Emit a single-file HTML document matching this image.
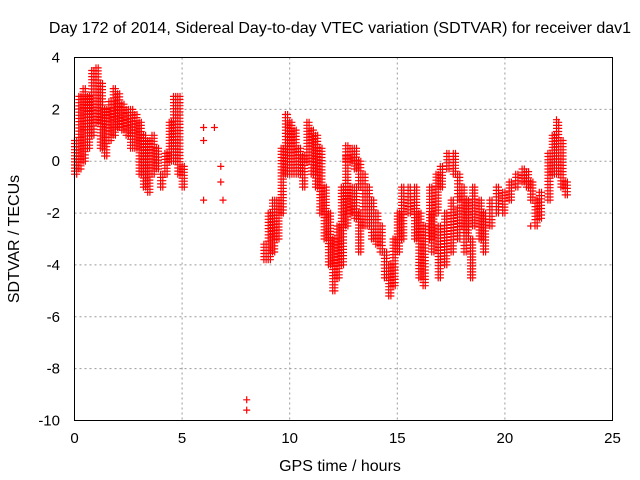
<!DOCTYPE html>
<html><head><meta charset="utf-8"><style>
body{margin:0;background:#fff;}
svg{display:block;font-family:"Liberation Sans",sans-serif;}
</style></head><body>
<svg id="chart" width="640" height="480" viewBox="0 0 640 480">
<rect width="640" height="480" fill="#fff"/>
<text x="340" y="33" text-anchor="middle" font-size="16" fill="#000">Day 172 of 2014, Sidereal Day-to-day VTEC variation (SDTVAR) for receiver dav1</text>
<g id="grid"></g>
<g id="marks"></g>
<rect x="74.5" y="57.5" width="538" height="363" fill="none" stroke="#000" stroke-width="1"/>
<g id="ticks"></g>
<text x="340" y="471" text-anchor="middle" font-size="16">GPS time / hours</text>
<text transform="translate(19,239) rotate(-90)" text-anchor="middle" font-size="16">SDTVAR / TECUs</text>
</svg>
<script>
const xTicks=[0,5,10,15,20,25];
const yTicks=[4,2,0,-2,-4,-6,-8,-10];
// band data: hours, low value, high value
const bandT=[0,0.2,0.4,0.6,0.8,1.0,1.2,1.4,1.6,1.8,2.0,2.2,2.4,2.6,2.8,3.0,3.2,3.4,3.6,3.8,4.0,4.2,4.4,4.6,4.8,5.0,
8.8,9.0,9.2,9.4,9.6,9.8,10.0,10.2,10.4,10.6,10.8,11.0,11.2,11.4,11.6,11.8,12.0,12.2,12.4,12.6,12.8,13.0,13.2,13.4,13.6,13.8,14.0,14.2,14.4,14.6,14.8,15.0,
12.6,12.8,13.0,13.2,13.4,13.6,13.8,14.0,14.2,
15.2,15.5,15.8,16.0,16.2,16.5,16.8,17.0,17.3,17.6,17.8,18.0,18.2,18.5,18.8,19.0,19.3,19.6,19.9,20.2,20.5,20.8,21.0,21.2,21.4,21.6,22.0,22.2,22.4,22.6,22.8,
16.6,16.9,17.2,17.5,17.8,18.1,18.4];
const bandLo=[-0.5,-0.3,0,0.5,1,1.5,0.5,0.2,0.8,1,1.3,1.2,1,0.5,0.5,-0.5,-1,-1.2,-0.5,-0.3,-1,-0.5,0,0,-0.5,-1,
-3.8,-3.8,-3.5,-3,-2,-0.5,-0.5,-0.5,-0.5,-1,0,-0.5,-1,-2,-3,-4,-5,-4.5,-4,-2.5,-2,-2.2,-3.5,-2.5,-2.5,-3,-3.2,-3.5,-4.5,-5.2,-4.8,-3.5,
0,0,-0.3,-1,-1.5,-2,-2.5,-3,-3.5,
-3,-2,-3,-4.5,-4.8,-3,-2,-1,-0.3,-0.5,-1.5,-2.5,-3,-2.5,-3,-3.5,-2.5,-2,-2,-1.5,-1,-0.8,-1,-1.5,-2.5,-2.2,-1.5,-0.5,-0.5,-1,-1.3,
-3.5,-4.5,-4,-3.5,-3,-3.5,-4.5];
const bandHi=[0.8,2.5,2.8,2.5,3.5,3.6,3,2,2.3,2.8,2.6,2.2,2,2,1.8,1.5,1,0.8,1,0.5,-0.5,0.3,1.5,2.5,2.5,-0.2,
-3.2,-2,-1.5,-1.5,0.5,1.8,1.5,1.2,0.5,0.2,1.5,1.2,1,0.5,-1,-2,-3,-2.5,-1,0.2,-1,-1,-2,-1.5,-1.5,-2,-2.5,-3,-3.5,-4,-3,-2,
0.6,0.5,0.5,0,-0.5,-1,-1.5,-2,-2.5,
-1,-1,-1,-2,-2.5,-1,-0.5,-0.2,0.3,0.3,-0.5,-1,-1.5,-1,-1.5,-2,-1.5,-1,-1.2,-0.8,-0.5,-0.3,-0.4,-0.8,-1.5,-1.2,0.3,1,1.5,0.8,-0.8,
-2,-2.5,-2,-1.5,-1.8,-2.5,-3];
const scatterT=[6.0,6.0,6.0,6.5,6.8,6.8,6.9,8.0,8.0,22.4,21.2];
const scatterV=[1.3,0.8,-1.5,1.3,-0.2,-0.8,-1.5,-9.2,-9.6,1.6,-2.5];

const X0=74.5,X1=612.5,Y0=57.5,Y1=420.5;
const xs=t=>X0+(t-0)/(25-0)*(X1-X0);
const ys=v=>Y0+(4-v)/(4-(-10))*(Y1-Y0);
const NS='http://www.w3.org/2000/svg';
const grid=document.getElementById('grid'),ticks=document.getElementById('ticks'),marks=document.getElementById('marks');
function mk(tag,a,p){const e=document.createElementNS(NS,tag);for(const k in a)e.setAttribute(k,a[k]);p.appendChild(e);return e;}
xTicks.forEach(t=>{
  if(t>0&&t<25){const g=mk('line',{x1:xs(t),x2:xs(t),y1:Y0,y2:Y1,stroke:'#999','stroke-dasharray':'2,3'},grid);
  
  }
  const l=mk('text',{x:xs(t),y:443,'text-anchor':'middle','font-size':15},ticks);l.textContent=t;
  
  
});
yTicks.forEach(v=>{
  if(v<4&&v>-10){const g=mk('line',{x1:X0,x2:X1,y1:ys(v),y2:ys(v),stroke:'#999','stroke-dasharray':'2,3'},grid);
  
  }
  const l=mk('text',{x:60,y:ys(v)+5,'text-anchor':'end','font-size':15},ticks);l.textContent=v;
  
  
});
let d='';
function plus(x,y){d+=`M${(x-3.5).toFixed(1)} ${y.toFixed(1)}h7M${x.toFixed(1)} ${(y-3.5).toFixed(1)}v7`;}
for(let i=0;i<bandT.length;i++){
  const lo=bandLo[i],hi=bandHi[i],x=xs(bandT[i]);
  const n=Math.max(1,Math.round((hi-lo)/0.12));
  for(let k=0;k<=n;k++){const v=lo+(hi-lo)*k/n;plus(x,ys(v));plus(x+2.2,ys(v));}
}
for(let i=0;i<scatterT.length;i++)plus(xs(scatterT[i]),ys(scatterV[i]));
const p=mk('path',{d:d,stroke:'#f00','stroke-width':1.2,fill:'none'},marks);


</script>
</body></html>
